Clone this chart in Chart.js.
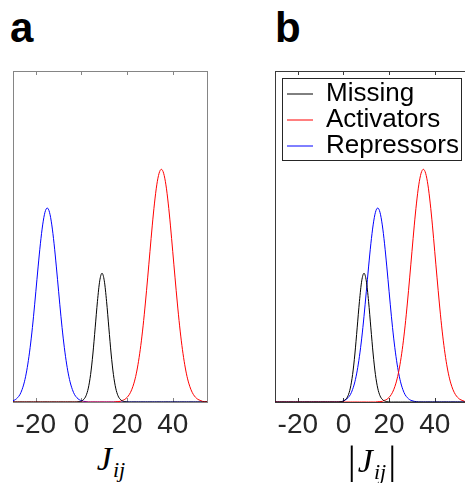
<!DOCTYPE html>
<html>
<head>
<meta charset="utf-8">
<script src="https://cdn.jsdelivr.net/npm/chart.js@4.4.1/dist/chart.umd.min.js"></script>
<style>
    html, body { margin: 0; padding: 0; background: #fff; overflow: hidden; }
    body { width: 465px; height: 483px; position: relative; }
    .panel { position: absolute; top: 0; }
    .letter { position: absolute; top: 7px; font: bold 42px "Liberation Sans", Arial, sans-serif; line-height: 42px; color: #000; }
    .xlabel { position: absolute; top: 442px; transform: translateX(-50%); white-space: nowrap;
              font-family: "Liberation Serif", "DejaVu Serif", serif; font-size: 34px; line-height: 34px; color: #000; }
    .xlabel i { font-style: italic; }
    .xlabel .sub { font-size: 22px; font-style: italic; position: relative; top: 7px; margin-left: 1px; }
    .xlabel .bar { font-size: 40px; position: relative; top: 1px; margin: 0 2px; }
</style>
</head>
<body>
<div class="letter" style="left:10px">a</div>
<div class="letter" style="left:275px">b</div>

<canvas id="panelA" class="panel" style="left:0px" width="232" height="440"></canvas>
<canvas id="panelB" class="panel" style="left:262px" width="232" height="440"></canvas>

<div class="xlabel" style="left:111px"><i>J</i><span class="sub">ij</span></div>
<div class="xlabel" style="left:372px"><span class="bar">|</span><i>J</i><span class="sub">ij</span><span class="bar">|</span></div>

<script>
const jGrid = [
    -30, -29, -28, -27, -26, -25, -24, -23, -22, -21,
    -20, -19, -18, -17, -16, -15, -14, -13, -12, -11,
    -10, -9, -8, -7, -6, -5, -4, -3, -2, -1,
    0, 1, 2, 3, 4, 5, 6, 7, 8, 9,
    10, 11, 12, 13, 14, 15, 16, 17, 18, 19,
    20, 21, 22, 23, 24, 25, 26, 27, 28, 29,
    30, 31, 32, 33, 34, 35, 36, 37, 38, 39,
    40, 41, 42, 43, 44, 45, 46, 47, 48, 49,
    50, 51, 52, 53, 54, 55
];

const xTickValues = [-20, 0, 20, 40];
const seriesNames = ['Missing', 'Activators', 'Repressors'];
const seriesColors = ['#000000', '#ff0000', '#0000ff'];

// black curve (same in both panels)
const missing = [
    0, 0, 0, 0, 0, 0, 0, 0, 0, 0,
    0, 0, 0, 0, 0, 0, 0, 0, 0, 0,
    0, 0, 0, 0, 0, 0, 0, 0, 0, 0.001,
    0.003, 0.008, 0.019, 0.042, 0.083, 0.145, 0.224, 0.304, 0.366, 0.389,
    0.366, 0.304, 0.224, 0.145, 0.083, 0.042, 0.019, 0.008, 0.003, 0.001,
    0, 0, 0, 0, 0, 0, 0, 0, 0, 0,
    0, 0, 0, 0, 0, 0, 0, 0, 0, 0,
    0, 0, 0, 0, 0, 0, 0, 0, 0, 0,
    0, 0, 0, 0, 0, 0
];

// red curve (same in both panels)
const activators = [
    0, 0, 0, 0, 0, 0, 0, 0, 0, 0,
    0, 0, 0, 0, 0, 0, 0, 0, 0, 0,
    0, 0, 0, 0, 0, 0, 0, 0, 0, 0,
    0, 0, 0, 0, 0, 0, 0, 0, 0, 0,
    0, 0, 0, 0, 0, 0.001, 0.001, 0.002, 0.005, 0.008,
    0.014, 0.023, 0.037, 0.057, 0.085, 0.123, 0.171, 0.230, 0.299, 0.375,
    0.454, 0.532, 0.601, 0.656, 0.691, 0.703, 0.691, 0.656, 0.601, 0.532,
    0.454, 0.375, 0.299, 0.230, 0.171, 0.123, 0.085, 0.057, 0.037, 0.023,
    0.014, 0.008, 0.005, 0.002, 0.001, 0.001
];

// blue curve, panel a (signed J)
const repressorsSigned = [
    0.004, 0.007, 0.013, 0.022, 0.038, 0.061, 0.094, 0.138, 0.193, 0.259,
    0.333, 0.408, 0.478, 0.535, 0.573, 0.586, 0.573, 0.535, 0.478, 0.408,
    0.333, 0.259, 0.193, 0.138, 0.094, 0.061, 0.038, 0.022, 0.013, 0.007,
    0.004, 0.002, 0.001, 0, 0, 0, 0, 0, 0, 0,
    0, 0, 0, 0, 0, 0, 0, 0, 0, 0,
    0, 0, 0, 0, 0, 0, 0, 0, 0, 0,
    0, 0, 0, 0, 0, 0, 0, 0, 0, 0,
    0, 0, 0, 0, 0, 0, 0, 0, 0, 0,
    0, 0, 0, 0, 0, 0
];

// blue curve, panel b (|J|)
const repressorsAbs = [
    0, 0, 0, 0, 0, 0, 0, 0, 0, 0,
    0, 0, 0, 0, 0, 0, 0, 0, 0, 0,
    0, 0, 0, 0, 0, 0, 0, 0, 0, 0,
    0.004, 0.007, 0.013, 0.022, 0.038, 0.061, 0.094, 0.138, 0.193, 0.259,
    0.333, 0.408, 0.478, 0.535, 0.573, 0.586, 0.573, 0.535, 0.478, 0.408,
    0.333, 0.259, 0.193, 0.138, 0.094, 0.061, 0.038, 0.022, 0.013, 0.007,
    0.004, 0.002, 0.001, 0, 0, 0, 0, 0, 0, 0,
    0, 0, 0, 0, 0, 0, 0, 0, 0, 0,
    0, 0, 0, 0, 0, 0
];

// box around the plot + MATLAB style inward ticks on top and bottom
const frameTicks = {
    id: 'frameTicks',
    beforeDatasetsDraw(chart, args, opts) {
        const { ctx, chartArea: a } = chart;
        const x = chart.scales.x;
        ctx.save();
        ctx.strokeStyle = opts.color;
        ctx.lineWidth = 1;
        ctx.strokeRect(a.left + 0.5, a.top + 0.5, a.right - a.left, a.bottom - a.top);
        ctx.beginPath();
        xTickValues.forEach(v => {
            const px = Math.round(x.getPixelForValue(v)) + 0.5;
            ctx.moveTo(px, a.top);
            ctx.lineTo(px, a.top + 4);
            ctx.moveTo(px, a.bottom);
            ctx.lineTo(px, a.bottom - 4);
        });
        ctx.stroke();
        ctx.restore();
    }
};

// legend sits inside the plot, with a thin box round it
const legendFrame = {
    id: 'legendFrame',
    afterLayout(chart, args, opts) {
        const legend = chart.legend;
        legend.left = chart.chartArea.left + opts.dx;
        legend.top = chart.chartArea.top + opts.dy;
        legend.right = chart.chartArea.right;
        legend.bottom = chart.chartArea.bottom;
    },
    afterDraw(chart, args, opts) {
        const boxes = chart.legend.legendHitBoxes;
        if (!boxes || !boxes.length) return;
        const left = Math.min(...boxes.map(b => b.left)) - 5;
        const top = Math.min(...boxes.map(b => b.top)) - 3;
        const right = Math.max(...boxes.map(b => b.left + b.width)) + 2;
        const bottom = Math.max(...boxes.map(b => b.top + b.height)) + 1;
        const ctx = chart.ctx;
        ctx.save();
        ctx.strokeStyle = '#262626';
        ctx.lineWidth = 1;
        ctx.strokeRect(Math.round(left) + 0.5, Math.round(top) + 0.5, Math.round(right - left), Math.round(bottom - top));
        ctx.restore();
    }
};

function makePanel(canvasId, blueValues, showLegend, frameColor) {
    const values = [missing, activators, blueValues];
    const datasets = values.map((vals, i) => ({
        label: seriesNames[i],
        data: jGrid.map((x, k) => ({ x: x, y: vals[k] })),
        borderColor: seriesColors[i],
        backgroundColor: seriesColors[i],
        borderWidth: 1,
        pointRadius: 0,
        fill: false,
        cubicInterpolationMode: 'monotone'
    }));

    const ctx = document.getElementById(canvasId).getContext('2d');
    return new Chart(ctx, {
        type: 'line',
        data: { datasets: datasets },
        plugins: showLegend ? [frameTicks, legendFrame] : [frameTicks],
        options: {
            responsive: false,
            animation: false,
            devicePixelRatio: 1,
            layout: { padding: { left: 13, right: 25, top: 71, bottom: 0 } },
            plugins: {
                frameTicks: { color: frameColor },
                legendFrame: { dx: 12, dy: 10 },
                tooltip: { enabled: false },
                legend: {
                    display: showLegend,
                    position: 'chartArea',
                    align: 'start',
                    labels: {
                        usePointStyle: true,
                        pointStyle: 'line',
                        pointStyleWidth: 26,
                        padding: 0,
                        color: '#000',
                        font: { family: 'Liberation Sans', size: 26 }
                    }
                }
            },
            scales: {
                x: {
                    type: 'linear',
                    min: -30,
                    max: 55,
                    afterBuildTicks: axis => { axis.ticks = xTickValues.map(v => ({ value: v })); },
                    afterFit: axis => { axis.height = 38; },
                    grid: { display: false, drawTicks: false },
                    border: { display: false },
                    ticks: {
                        padding: 6,
                        color: '#262626',
                        maxRotation: 0,
                        font: { family: 'Liberation Sans', size: 28 }
                    }
                },
                y: {
                    display: false,
                    min: 0,
                    max: 1
                }
            }
        }
    });
}

makePanel('panelA', repressorsSigned, false, '#858585');
makePanel('panelB', repressorsAbs, true, '#3a3a3a');
</script>
</body>
</html>
